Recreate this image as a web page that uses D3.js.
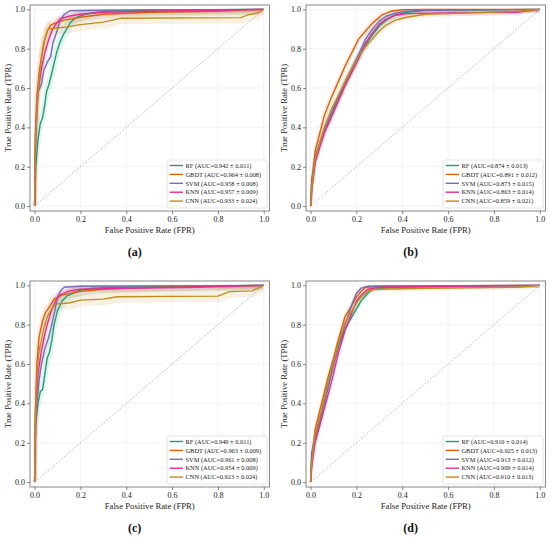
<!DOCTYPE html>
<html>
<head>
<meta charset="utf-8">
<script src="https://cdn.jsdelivr.net/npm/d3@7"></script>
<style>
  body { margin: 0; background: #fff; }
  svg { display: block; }
  text { font-family: "Liberation Serif", "Times New Roman", serif; }
</style>
</head>
<body>
<div id="chart"></div>
<script>
// models and colours
var models = ["RF", "GBDT", "SVM", "KNN", "CNN"];
var colors = ["#1b9e77", "#e0600a", "#7570b3", "#ee2a8f", "#c08d1d"];
var tickValues = [0, 0.2, 0.4, 0.6, 0.8, 1.0];

// legend AUC text per panel
var aucA = ["0.942 ± 0.011", "0.964 ± 0.008", "0.958 ± 0.008", "0.957 ± 0.009", "0.933 ± 0.024"];
var aucB = ["0.874 ± 0.013", "0.891 ± 0.012", "0.873 ± 0.015", "0.863 ± 0.014", "0.859 ± 0.021"];
var aucC = ["0.949 ± 0.011", "0.963 ± 0.009", "0.961 ± 0.008", "0.954 ± 0.009", "0.923 ± 0.024"];
var aucD = ["0.910 ± 0.014", "0.925 ± 0.013", "0.913 ± 0.012", "0.909 ± 0.014", "0.910 ± 0.013"];

// half width of the shaded std band per model
var bandA = [0.025, 0.022, 0.015, 0.015, 0.03];
var bandB = [0.015, 0.015, 0.015, 0.015, 0.015];
var bandC = [0.025, 0.022, 0.015, 0.015, 0.03];
var bandD = [0.012, 0.012, 0.012, 0.012, 0.012];

// ROC points [fpr, tpr]
var rocA_RF = [[0,0],[0.005,0.2],[0.015,0.34],[0.025,0.42],[0.035,0.45],[0.045,0.52],[0.052,0.58],[0.063,0.62],[0.074,0.67],[0.086,0.73],[0.096,0.78],[0.11,0.83],[0.125,0.87],[0.14,0.9],[0.155,0.93],[0.175,0.955],[0.22,0.975],[0.3,0.99],[0.5,0.995],[1,1]];
var rocA_GBDT = [[0,0],[0.003,0.35],[0.01,0.55],[0.02,0.68],[0.03,0.76],[0.04,0.83],[0.055,0.89],[0.07,0.92],[0.09,0.93],[0.13,0.945],[0.2,0.96],[0.3,0.975],[0.5,0.985],[0.8,0.99],[1,1]];
var rocA_SVM = [[0,0],[0.005,0.4],[0.015,0.58],[0.03,0.62],[0.04,0.69],[0.055,0.73],[0.07,0.76],[0.08,0.83],[0.095,0.88],[0.11,0.94],[0.13,0.975],[0.155,0.993],[0.3,0.996],[1,1]];
var rocA_KNN = [[0,0],[0.005,0.35],[0.015,0.58],[0.03,0.7],[0.045,0.78],[0.06,0.84],[0.075,0.89],[0.09,0.92],[0.11,0.95],[0.15,0.965],[0.2,0.975],[0.3,0.985],[0.5,0.99],[1,1]];
var rocA_CNN = [[0,0],[0.003,0.3],[0.01,0.5],[0.02,0.65],[0.03,0.75],[0.045,0.85],[0.06,0.9],[0.1,0.905],[0.15,0.912],[0.2,0.922],[0.3,0.935],[0.38,0.955],[0.9,0.958],[0.93,0.972],[0.97,0.98],[1,1]];

var rocB_RF = [[0,0],[0.005,0.13],[0.02,0.24],[0.04,0.31],[0.06,0.38],[0.09,0.46],[0.12,0.54],[0.15,0.62],[0.18,0.69],[0.21,0.76],[0.24,0.82],[0.27,0.87],[0.3,0.915],[0.33,0.945],[0.37,0.97],[0.42,0.985],[0.5,0.995],[1,1]];
var rocB_GBDT = [[0,0],[0.005,0.12],[0.02,0.28],[0.04,0.37],[0.06,0.46],[0.09,0.55],[0.12,0.63],[0.15,0.71],[0.18,0.78],[0.21,0.85],[0.24,0.89],[0.27,0.93],[0.31,0.97],[0.35,0.99],[0.4,0.998],[0.5,1],[1,1]];
var rocB_SVM = [[0,0],[0.005,0.1],[0.02,0.25],[0.04,0.32],[0.06,0.39],[0.09,0.47],[0.12,0.55],[0.15,0.63],[0.18,0.7],[0.21,0.77],[0.24,0.85],[0.27,0.9],[0.3,0.94],[0.33,0.965],[0.37,0.98],[0.42,0.99],[0.5,0.995],[1,1]];
var rocB_KNN = [[0,0],[0.005,0.08],[0.02,0.22],[0.04,0.3],[0.06,0.37],[0.09,0.45],[0.12,0.53],[0.15,0.61],[0.18,0.68],[0.21,0.75],[0.24,0.83],[0.27,0.88],[0.3,0.925],[0.33,0.95],[0.37,0.97],[0.42,0.978],[0.6,0.982],[0.9,0.985],[1,1]];
var rocB_CNN = [[0,0],[0.005,0.09],[0.02,0.24],[0.04,0.32],[0.06,0.4],[0.09,0.49],[0.12,0.56],[0.15,0.63],[0.18,0.7],[0.21,0.76],[0.24,0.81],[0.27,0.85],[0.3,0.89],[0.33,0.92],[0.37,0.945],[0.42,0.96],[0.5,0.975],[0.7,0.982],[0.9,0.99],[1,1]];

var rocC_RF = [[0,0],[0.005,0.3],[0.015,0.4],[0.025,0.46],[0.035,0.47],[0.045,0.55],[0.055,0.63],[0.065,0.66],[0.075,0.72],[0.085,0.8],[0.1,0.87],[0.12,0.92],[0.14,0.945],[0.17,0.96],[0.2,0.975],[0.25,0.985],[0.4,0.99],[1,1]];
var rocC_GBDT = [[0,0],[0.003,0.35],[0.01,0.6],[0.02,0.74],[0.035,0.82],[0.047,0.86],[0.065,0.89],[0.085,0.93],[0.12,0.95],[0.2,0.97],[0.3,0.98],[0.5,0.99],[1,1]];
var rocC_SVM = [[0,0],[0.005,0.35],[0.02,0.52],[0.03,0.6],[0.045,0.68],[0.06,0.73],[0.075,0.8],[0.09,0.88],[0.1,0.94],[0.115,0.975],[0.13,0.99],[0.2,0.995],[1,1]];
var rocC_KNN = [[0,0],[0.005,0.35],[0.015,0.55],[0.03,0.67],[0.05,0.78],[0.07,0.86],[0.09,0.92],[0.11,0.95],[0.15,0.97],[0.2,0.98],[0.4,0.985],[0.7,0.99],[1,1]];
var rocC_CNN = [[0,0],[0.003,0.3],[0.01,0.55],[0.02,0.67],[0.03,0.72],[0.04,0.78],[0.055,0.84],[0.07,0.87],[0.09,0.905],[0.15,0.91],[0.2,0.925],[0.3,0.93],[0.36,0.942],[0.8,0.945],[0.85,0.968],[0.95,0.972],[1,1]];

var rocD_RF = [[0,0],[0.005,0.12],[0.02,0.22],[0.05,0.35],[0.08,0.5],[0.1,0.6],[0.12,0.68],[0.15,0.78],[0.18,0.84],[0.2,0.88],[0.22,0.92],[0.25,0.96],[0.27,0.98],[0.35,0.99],[0.6,0.995],[1,1]];
var rocD_GBDT = [[0,0],[0.005,0.12],[0.02,0.27],[0.05,0.41],[0.08,0.55],[0.1,0.63],[0.12,0.72],[0.15,0.84],[0.18,0.9],[0.2,0.94],[0.22,0.97],[0.24,0.99],[0.3,0.995],[1,1]];
var rocD_SVM = [[0,0],[0.005,0.15],[0.02,0.23],[0.05,0.36],[0.08,0.5],[0.1,0.59],[0.12,0.69],[0.15,0.8],[0.18,0.9],[0.2,0.96],[0.22,0.985],[0.25,0.995],[1,1]];
var rocD_KNN = [[0,0],[0.005,0.08],[0.02,0.2],[0.05,0.33],[0.08,0.46],[0.1,0.55],[0.12,0.65],[0.15,0.77],[0.18,0.86],[0.2,0.92],[0.22,0.95],[0.25,0.98],[0.3,0.99],[0.6,0.995],[1,1]];
var rocD_CNN = [[0,0],[0.005,0.1],[0.02,0.24],[0.05,0.38],[0.08,0.53],[0.1,0.61],[0.12,0.7],[0.15,0.81],[0.18,0.87],[0.2,0.91],[0.22,0.94],[0.25,0.97],[0.28,0.98],[0.5,0.985],[0.9,0.99],[1,1]];

var panels = [
  {label: "(a)", left: 30, top: 5, curves: [rocA_RF, rocA_GBDT, rocA_SVM, rocA_KNN, rocA_CNN], auc: aucA, band: bandA},
  {label: "(b)", left: 306, top: 5, curves: [rocB_RF, rocB_GBDT, rocB_SVM, rocB_KNN, rocB_CNN], auc: aucB, band: bandB},
  {label: "(c)", left: 30, top: 281, curves: [rocC_RF, rocC_GBDT, rocC_SVM, rocC_KNN, rocC_CNN], auc: aucC, band: bandC},
  {label: "(d)", left: 306, top: 281, curves: [rocD_RF, rocD_GBDT, rocD_SVM, rocD_KNN, rocD_CNN], auc: aucD, band: bandD}
];

var W = 239.5, H = 206;

var svg = d3.select("#chart").append("svg")
  .attr("width", 550)
  .attr("height", 539);

var clamp = function(v){ return Math.max(0, Math.min(1, v)); };

function drawPanel(p, idx){
  var g = svg.append("g").attr("transform", "translate(" + p.left + "," + p.top + ")");

  var x = d3.scaleLinear().domain([-0.02, 1.025]).range([0, W]);
  var y = d3.scaleLinear().domain([-0.025, 1.022]).range([H, 0]);

  g.append("clipPath").attr("id", "clip" + idx)
    .append("rect").attr("width", W).attr("height", H);

  // grid
  g.selectAll(".gx").data(tickValues).enter().append("line")
    .attr("x1", function(d){ return x(d); }).attr("x2", function(d){ return x(d); })
    .attr("y1", 0).attr("y2", H)
    .attr("stroke", "#ebebeb").attr("stroke-width", 0.6);
  g.selectAll(".gy").data(tickValues).enter().append("line")
    .attr("y1", function(d){ return y(d); }).attr("y2", function(d){ return y(d); })
    .attr("x1", 0).attr("x2", W)
    .attr("stroke", "#ebebeb").attr("stroke-width", 0.6);

  var plot = g.append("g").attr("clip-path", "url(#clip" + idx + ")");

  // chance diagonal
  plot.append("line")
    .attr("x1", x(0)).attr("y1", y(0)).attr("x2", x(1)).attr("y2", y(1))
    .attr("stroke", "#9a9a9a").attr("stroke-width", 0.6)
    .attr("stroke-dasharray", "2,1.5");

  var line = d3.line()
    .x(function(d){ return x(d[0]); })
    .y(function(d){ return y(d[1]); });

  // std bands, spread mostly vertically, a little sideways
  p.curves.forEach(function(c, i){
    var w = p.band[i];
    var upper = c.map(function(d){ return [clamp(d[0] - w * 0.4), clamp(d[1] + w)]; });
    var lower = c.map(function(d){ return [clamp(d[0] + w * 0.4), clamp(d[1] - w)]; }).reverse();
    plot.append("path")
      .attr("d", line(upper.concat(lower)) + "Z")
      .attr("fill", colors[i]).attr("fill-opacity", 0.12)
      .attr("stroke", "none");
  });

  // curves
  p.curves.forEach(function(c, i){
    plot.append("path")
      .attr("d", line(c))
      .attr("fill", "none")
      .attr("stroke", colors[i])
      .attr("stroke-width", 1.4)
      .attr("stroke-linejoin", "round");
  });

  // frame
  g.append("rect").attr("width", W).attr("height", H)
    .attr("fill", "none").attr("stroke", "#7a7a7a").attr("stroke-width", 0.9);

  // axes
  var xa = g.append("g").attr("transform", "translate(0," + H + ")")
    .call(d3.axisBottom(x).tickValues(tickValues).tickFormat(d3.format(".1f")).tickSize(3).tickPadding(2.5));
  var ya = g.append("g")
    .call(d3.axisLeft(y).tickValues(tickValues).tickFormat(d3.format(".1f")).tickSize(3).tickPadding(2));
  [xa, ya].forEach(function(a){
    a.select(".domain").remove();
    a.selectAll(".tick line").attr("stroke", "#555").attr("stroke-width", 0.7);
    a.selectAll(".tick text").attr("fill", "#222").style("font-size", "8px")
      .style("font-family", "'Liberation Serif', 'Times New Roman', serif");
  });

  g.append("text")
    .attr("x", W / 2).attr("y", H + 22)
    .attr("text-anchor", "middle")
    .attr("fill", "#222").style("font-size", "8.7px")
    .text("False Positive Rate (FPR)");

  g.append("text")
    .attr("transform", "translate(-19," + (H / 2) + ") rotate(-90)")
    .attr("text-anchor", "middle")
    .attr("fill", "#222").style("font-size", "8.7px")
    .text("True Positive Rate (TPR)");

  // legend
  var lw = 100, lh = 48;
  var lg = g.append("g").attr("transform", "translate(" + (W - lw - 2.5) + "," + (H - lh - 3) + ")");
  lg.append("rect").attr("width", lw).attr("height", lh).attr("rx", 1.5)
    .attr("fill", "#fff").attr("fill-opacity", 0.85)
    .attr("stroke", "#d0d0d0").attr("stroke-width", 0.6);
  models.forEach(function(m, i){
    var ry = 5.5 + i * 8.9;
    lg.append("line").attr("x1", 2.6).attr("x2", 16).attr("y1", ry).attr("y2", ry)
      .attr("stroke", colors[i]).attr("stroke-width", 1.4);
    lg.append("text").attr("x", 18.5).attr("y", ry + 2.2)
      .attr("fill", "#222").style("font-size", "6.4px")
      .text(m + " (AUC=" + p.auc[i] + ")");
  });

  // panel label
  g.append("text")
    .attr("x", 104.7).attr("y", 251)
    .attr("text-anchor", "middle")
    .attr("fill", "#111").style("font-size", "12px").style("font-weight", "bold")
    .text(p.label);
}

panels.forEach(drawPanel);
</script>
</body>
</html>
